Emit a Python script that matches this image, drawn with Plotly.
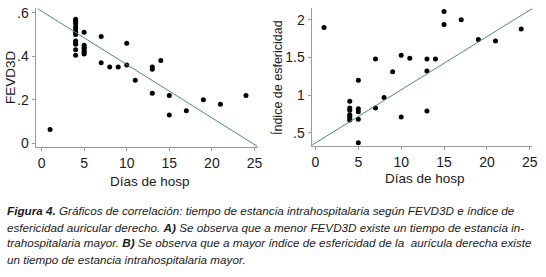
import plotly.graph_objects as go

W, H = 546, 277

# ---- data ----
dias_a = [1, 4, 4, 4, 4, 4, 4, 4, 4, 4, 4, 4, 4,
          5, 5, 5, 5, 5, 5, 5, 7, 7, 8, 9, 10, 10, 11,
          13, 13, 13, 14, 15, 15, 17, 19, 21, 24]
fevd3d = [0.063, 0.57, 0.56, 0.55, 0.535, 0.525, 0.51, 0.50, 0.47, 0.46, 0.455, 0.43, 0.405,
          0.51, 0.45, 0.44, 0.435, 0.425, 0.418, 0.41, 0.49, 0.37, 0.35, 0.35, 0.46, 0.36, 0.29,
          0.35, 0.34, 0.23, 0.38, 0.22, 0.13, 0.15, 0.20, 0.18, 0.22]

dias_b = [1, 4, 4, 4, 4, 4, 4, 4, 5, 5, 5, 5, 5, 7, 7, 8, 9, 10, 10, 11,
          13, 13, 13, 14, 15, 15, 17, 19, 21, 24]
indice = [1.90, 0.92, 0.83, 0.80, 0.74, 0.72, 0.69, 0.67, 1.20, 0.82, 0.78, 0.68, 0.37,
          1.48, 0.83, 0.97, 1.31, 1.53, 0.71, 1.49, 1.48, 1.32, 0.79, 1.48, 2.11, 1.94,
          2.00, 1.74, 1.72, 1.88]

# linear fits (intercept, slope)
fit_a = (0.607, -0.0245)
fit_b = (0.367, 0.0705)

x_ticks = [0, 5, 10, 15, 20, 25]
ya_ticks = [0, 0.2, 0.4, 0.6]
ya_text = ["0", ".2", ".4", ".6"]
yb_ticks = [0.5, 1, 1.5, 2]
yb_text = [".5", "1", "1.5", "2"]

xa_range = [-0.70, 25.43]
ya_range = [-0.018, 0.622]
xb_range = [-0.46, 25.27]
yb_range = [0.323, 2.159]

caption_lines = [
    "<b>Figura 4.</b> Gráficos de correlación: tiempo de estancia intrahospitalaria según FEVD3D e índice de",
    "esfericidad auricular derecho. <b>A)</b> Se observa que a menor FEVD3D existe un tiempo de estancia in-",
    "trahospitalaria mayor. <b>B)</b> Se observa que a mayor índice de esfericidad de la  aurícula derecha existe",
    "un tiempo de estancia intrahospitalaria mayor.",
]

# ---- styling ----
AXIS_GRAY = "#9a9a9a"
FIT_GREEN = "#4d8f63"
TXT = "#1a1a1a"
FONT = "Liberation Sans, Arial, sans-serif"
CAP_FONT = "Liberation Sans, Arial, sans-serif"


def px_x(p):
    return p / W


def px_y(p):
    return 1 - p / H


fig = go.Figure()

fig.add_trace(go.Scatter(x=dias_a, y=fevd3d, mode="markers",
                         marker=dict(color="black", size=5), xaxis="x", yaxis="y",
                         showlegend=False))
fa_x = [xa_range[0] + 0.25, xa_range[1] - 0.1]
fig.add_trace(go.Scatter(x=fa_x, y=[fit_a[0] + fit_a[1] * v for v in fa_x], mode="lines",
                         line=dict(color=FIT_GREEN, width=1), xaxis="x", yaxis="y",
                         showlegend=False))

fig.add_trace(go.Scatter(x=dias_b, y=indice, mode="markers",
                         marker=dict(color="black", size=5), xaxis="x2", yaxis="y2",
                         showlegend=False))
fb_x = [xb_range[0] + 0.08, xb_range[1]]
fig.add_trace(go.Scatter(x=fb_x, y=[fit_b[0] + fit_b[1] * v for v in fb_x], mode="lines",
                         line=dict(color=FIT_GREEN, width=1), xaxis="x2", yaxis="y2",
                         showlegend=False))

axis_common = dict(showline=True, linecolor=AXIS_GRAY, linewidth=1, ticks="outside",
                   ticklen=3, tickcolor=AXIS_GRAY, showgrid=False, zeroline=False,
                   ticklabeloverflow="allow",
                   tickfont=dict(family=FONT, size=14, color=TXT))

fig.update_layout(
    width=W, height=H, margin=dict(l=0, r=0, t=0, b=0),
    paper_bgcolor="white", plot_bgcolor="white",
    xaxis=dict(domain=[px_x(36), px_x(261)], range=xa_range, tickvals=x_ticks,
               anchor="y", **axis_common),
    yaxis=dict(domain=[px_y(148), px_y(5)], range=ya_range, tickvals=ya_ticks,
               ticktext=ya_text, anchor="x", **axis_common),
    xaxis2=dict(domain=[px_x(315), px_x(538)], range=xb_range, tickvals=x_ticks,
                anchor="y2", **axis_common),
    yaxis2=dict(domain=[px_y(147), px_y(5)], range=yb_range, tickvals=yb_ticks,
                ticktext=yb_text, anchor="x2", **axis_common),
)

ann = []
ann.append(dict(text="Días de hosp", x=px_x(152), y=px_y(183), xref="paper", yref="paper",
                showarrow=False, font=dict(family=FONT, size=13.5, color=TXT),
                xanchor="center", yanchor="middle"))
ann.append(dict(text="Días de hosp", x=px_x(430), y=px_y(180), xref="paper", yref="paper",
                showarrow=False, font=dict(family=FONT, size=13.5, color=TXT),
                xanchor="center", yanchor="middle"))
ann.append(dict(text="FEVD3D", x=px_x(10), y=px_y(76), xref="paper", yref="paper",
                showarrow=False, textangle=-90, font=dict(family=FONT, size=13.5, color=TXT),
                xanchor="center", yanchor="middle"))
ann.append(dict(text="Índice de esfericidad", x=px_x(280), y=px_y(76), xref="paper", yref="paper",
                showarrow=False, textangle=-90, font=dict(family=FONT, size=12.5, color=TXT),
                xanchor="center", yanchor="middle"))

cap_y = [213, 230, 246, 263]
for line, yy in zip(caption_lines, cap_y):
    ann.append(dict(text="<i>" + line + "</i>", x=px_x(5), y=px_y(yy), xref="paper", yref="paper",
                    showarrow=False, font=dict(family=CAP_FONT, size=11.7, color=TXT),
                    xanchor="left", yanchor="middle"))

fig.update_layout(annotations=ann)

fig.write_html("out.html", config={"displayModeBar": False, "staticPlot": True},
               post_script="document.body.style.margin='0px';document.body.style.overflow='hidden';")
